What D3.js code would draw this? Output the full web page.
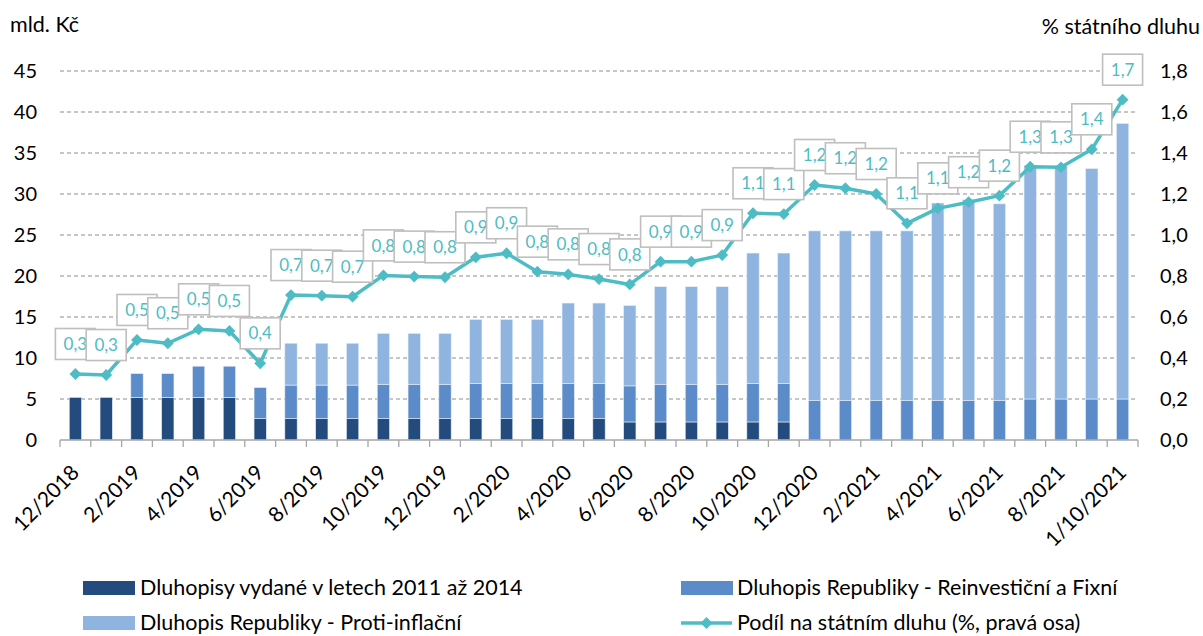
<!DOCTYPE html>
<html>
<head>
<meta charset="utf-8">
<script src="https://cdn.jsdelivr.net/npm/d3@7"></script>
<style>
  html, body { margin: 0; padding: 0; background: #fff; }
  svg { display: block; font-family: Lato, "Open Sans", sans-serif; }
</style>
</head>
<body>
<svg id="chart" width="1203" height="636"></svg>
<script>
// ---- data ----
const categories = ["12/2018","1/2019","2/2019","3/2019","4/2019","5/2019","6/2019","7/2019","8/2019","9/2019",
  "10/2019","11/2019","12/2019","1/2020","2/2020","3/2020","4/2020","5/2020","6/2020","7/2020",
  "8/2020","9/2020","10/2020","11/2020","12/2020","1/2021","2/2021","3/2021","4/2021","5/2021",
  "6/2021","7/2021","8/2021","9/2021","1/10/2021"];
const tickLabels = ["12/2018","2/2019","4/2019","6/2019","8/2019","10/2019","12/2019","2/2020","4/2020",
  "6/2020","8/2020","10/2020","12/2020","2/2021","4/2021","6/2021","8/2021","1/10/2021"];
// billions CZK
const bonds2011_2014 = [5.2,5.2,5.2,5.2,5.2,5.2,2.6,2.6,2.6,2.6,2.6,2.6,2.6,2.6,2.6,2.6,2.6,2.6,2.2,2.2,
  2.2,2.2,2.2,2.2,0,0,0,0,0,0,0,0,0,0,0];
const reinvestFixed = [0,0,2.9,2.9,3.8,3.8,3.8,4.1,4.1,4.1,4.2,4.2,4.2,4.3,4.3,4.3,4.3,4.3,4.4,4.6,
  4.6,4.6,4.7,4.7,4.8,4.8,4.8,4.8,4.8,4.8,4.8,5.0,5.0,5.0,5.0];
const antiInflation = [0,0,0,0,0,0,0,5.1,5.1,5.1,6.2,6.2,6.2,7.8,7.8,7.8,9.8,9.8,9.8,11.9,
  11.9,11.9,15.9,15.9,20.7,20.7,20.7,20.7,24.1,24.5,24.0,28.5,28.4,28.1,33.6];
// share on state debt (%)
const shareOfDebt = [0.322,0.317,0.488,0.472,0.54,0.532,0.374,0.707,0.704,0.699,0.803,0.797,0.794,0.891,0.911,
  0.821,0.808,0.785,0.759,0.870,0.870,0.902,1.106,1.102,1.244,1.228,1.2,1.057,1.13,1.16,
  1.192,1.333,1.33,1.418,1.66];
const leftTicks = [0,5,10,15,20,25,30,35,40,45];
const rightTicks = [0,0.2,0.4,0.6,0.8,1.0,1.2,1.4,1.6,1.8];
const seriesNames = ["Dluhopisy vydané v letech 2011 až 2014","Dluhopis Republiky - Reinvestiční a Fixní",
  "Dluhopis Republiky - Proti-inflační","Podíl na státním dluhu (%, pravá osa)"];
const colors = ["#234b7d","#5b8cc9","#8fb4e0"];
const lineColor = "#4dbcc4";

// ---- setup ----
const locale = d3.formatLocale({decimal: ",", thousands: " ", grouping: [3], currency: ["", " Kč"]});
const fmt1 = locale.format(".1f");
const svg = d3.select("#chart");
const pLeft = 60, pRight = 1138, pTop = 71, pBottom = 440;

const x = d3.scaleBand().domain(d3.range(categories.length)).range([pLeft, pRight])
  .paddingInner(0.6).paddingOuter(0.3);
const yL = d3.scaleLinear().domain([0, 45]).range([pBottom, pTop]);
const yR = d3.scaleLinear().domain([0, 1.8]).range([pBottom, pTop]);

// gridlines
svg.append("g").selectAll("line").data(leftTicks.filter(d => d > 0)).join("line")
  .attr("x1", pLeft).attr("x2", pRight)
  .attr("y1", d => yL(d)).attr("y2", d => yL(d))
  .attr("stroke", "#8c8c8c").attr("stroke-width", 1).attr("stroke-dasharray", "4,3");

// stacked bars
const rows = categories.map((c, i) => ({i, a: bonds2011_2014[i], b: reinvestFixed[i], c: antiInflation[i]}));
const stack = d3.stack().keys(["a","b","c"])(rows);
svg.append("g").selectAll("g").data(stack).join("g")
  .attr("fill", (d, k) => colors[k])
  .selectAll("rect").data(d => d.filter(s => s[1] - s[0] > 0)).join("rect")
  .attr("x", d => x(d.data.i)).attr("width", x.bandwidth())
  .attr("y", d => yL(d[1])).attr("height", d => yL(d[0]) - yL(d[1]))
  .attr("stroke", "#e8eef7").attr("stroke-width", 0.6);

// x axis line + ticks at category boundaries
const gx = svg.append("g");
gx.append("line").attr("x1", pLeft).attr("x2", pRight).attr("y1", pBottom).attr("y2", pBottom)
  .attr("stroke", "#a6a6a6").attr("stroke-width", 1.3);
gx.selectAll("line.tk").data(d3.range(categories.length + 1)).join("line").attr("class", "tk")
  .attr("x1", d => x.range()[0] + d * x.step()).attr("x2", d => x.range()[0] + d * x.step())
  .attr("y1", pBottom).attr("y2", pBottom + 7)
  .attr("stroke", "#a6a6a6").attr("stroke-width", 1.3);
gx.selectAll("text").data(tickLabels).join("text")
  .attr("transform", d => {
    const i = categories.indexOf(d);
    return `translate(${x(i) + x.bandwidth() / 2 + 5},${pBottom + 34}) rotate(-45)`;
  })
  .attr("text-anchor", "end").attr("font-size", 21).attr("fill", "#000").text(d => d);

// left axis
const axL = svg.append("g").attr("transform", `translate(${pLeft},0)`)
  .call(d3.axisLeft(yL).tickValues(leftTicks).tickSize(0).tickPadding(23).tickFormat(d3.format("d")));
axL.select(".domain").remove();
axL.selectAll("text").attr("font-size", 20).attr("font-family", "Lato").attr("fill", "#000");

// right axis
const axR = svg.append("g").attr("transform", `translate(${pRight},0)`)
  .call(d3.axisRight(yR).tickValues(rightTicks).tickSize(0).tickPadding(22).tickFormat(fmt1));
axR.select(".domain").remove();
axR.selectAll("text").attr("font-size", 20).attr("font-family", "Lato").attr("fill", "#000");

// axis titles
svg.append("text").attr("x", 10).attr("y", 32).attr("font-size", 21.5).text("mld. Kč");
svg.append("text").attr("x", 1200).attr("y", 34).attr("font-size", 21.5).attr("text-anchor", "end").text("% státního dluhu");

// line
const cx = i => x(i) + x.bandwidth() / 2;
svg.append("path").datum(shareOfDebt)
  .attr("d", d3.line().x((d, i) => cx(i)).y(d => yR(d)))
  .attr("fill", "none").attr("stroke", lineColor).attr("stroke-width", 3.5).attr("stroke-linejoin", "round");
const diamond = d3.symbol().type(d3.symbolSquare).size(70);
svg.append("g").selectAll("path").data(shareOfDebt).join("path")
  .attr("d", diamond)
  .attr("transform", (d, i) => `translate(${cx(i)},${yR(d)}) rotate(45)`)
  .attr("fill", lineColor);

// data labels
const lab = svg.append("g").selectAll("g").data(shareOfDebt).join("g")
  .attr("transform", (d, i) => `translate(${cx(i)},${yR(d) - 30})`);
lab.append("rect").attr("x", -20).attr("y", -15.5).attr("width", 40).attr("height", 31)
  .attr("fill", "#fff").attr("stroke", "#bfbfbf").attr("stroke-width", 1.6);
lab.append("text").attr("text-anchor", "middle").attr("dy", "0.36em").attr("font-size", 17)
  .attr("fill", lineColor).text(d => fmt1(d));

// legend
const leg = svg.append("g");
const legItems = [
  {name: seriesNames[0], col: 0, row: 0, type: "rect", color: colors[0]},
  {name: seriesNames[1], col: 1, row: 0, type: "rect", color: colors[1]},
  {name: seriesNames[2], col: 0, row: 1, type: "rect", color: colors[2]},
  {name: seriesNames[3], col: 1, row: 1, type: "line", color: lineColor}
];
const colX = [83, 681], rowY = [588, 623];
legItems.forEach(it => {
  const g = leg.append("g").attr("transform", `translate(${colX[it.col]},${rowY[it.row]})`);
  if (it.type === "rect") {
    g.append("rect").attr("x", 0).attr("y", -7).attr("width", 52).attr("height", 14).attr("fill", it.color);
  } else {
    g.append("line").attr("x1", 0).attr("x2", 51).attr("y1", 0).attr("y2", 0)
      .attr("stroke", it.color).attr("stroke-width", 3.5);
    g.append("path").attr("d", diamond).attr("transform", "translate(25.5,0) rotate(45)").attr("fill", it.color);
  }
  g.append("text").attr("x", it.col === 0 ? 57 : 56).attr("dy", "0.34em").attr("font-size", 21.5).text(it.name);
});
</script>
</body>
</html>
